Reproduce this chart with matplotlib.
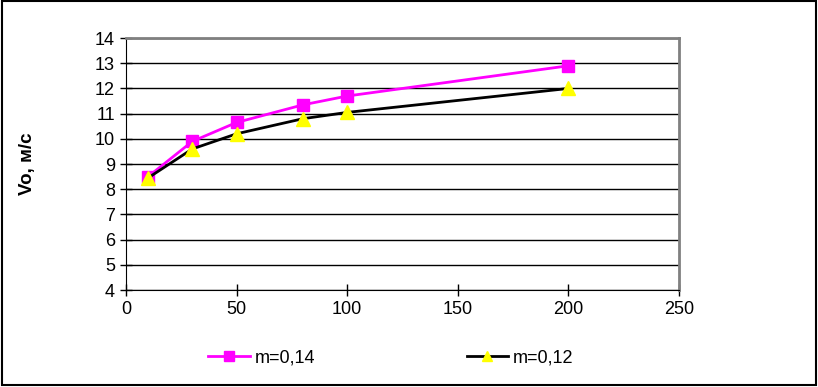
import matplotlib
matplotlib.use("Agg")
import matplotlib.pyplot as plt
from matplotlib.patches import Rectangle

plt.rcParams['font.family'] = ['Liberation Sans', 'DejaVu Sans']

x = [10, 30, 50, 80, 100, 200]
v_014 = [8.5, 9.9, 10.65, 11.35, 11.7, 12.9]
v_012 = [8.45, 9.6, 10.2, 10.8, 11.05, 12.0]
labels = ["m=0,14", "m=0,12"]

fig = plt.figure(figsize=(8.18, 3.87), dpi=100)
ax = fig.add_axes([0.154, 0.2506, 0.676, 0.651])

ax.plot(x, v_014, color='#ff00ff', lw=2, marker='s', ms=9,
        mfc='#ff00ff', mec='#ff00ff', label=labels[0], zorder=3)
ax.plot(x, v_012, color='black', lw=2, marker='^', ms=10,
        mfc='#ffff00', mec='#ffff00', label=labels[1], zorder=3)

ax.set_xlim(0, 250)
ax.set_ylim(4, 14)
ax.set_xticks(range(0, 251, 50))
ax.set_yticks(range(4, 15))
ax.yaxis.grid(True, color='black', lw=1)
ax.set_axisbelow(True)

for s in ['top', 'right']:
    ax.spines[s].set_color('#808080')
    ax.spines[s].set_linewidth(2)
ax.spines['left'].set_color('black')
ax.spines['bottom'].set_color('black')
ax.tick_params(direction='inout', length=8, width=1, labelsize=13, pad=4)

ax.set_ylabel("Vo, м/с", fontsize=13.5, fontweight='bold', labelpad=42)

fig.legend(loc='center left', bbox_to_anchor=(0.235, 0.075), ncol=2, frameon=False,
           fontsize=13, handlelength=2.3, handletextpad=0.25, columnspacing=8.4,
           markerscale=0.75)

fig.patches.append(Rectangle((0.002, 0.004), 0.995, 0.993, transform=fig.transFigure,
                             fill=False, edgecolor='black', lw=1.5))

fig.savefig("out.png", dpi=100)
